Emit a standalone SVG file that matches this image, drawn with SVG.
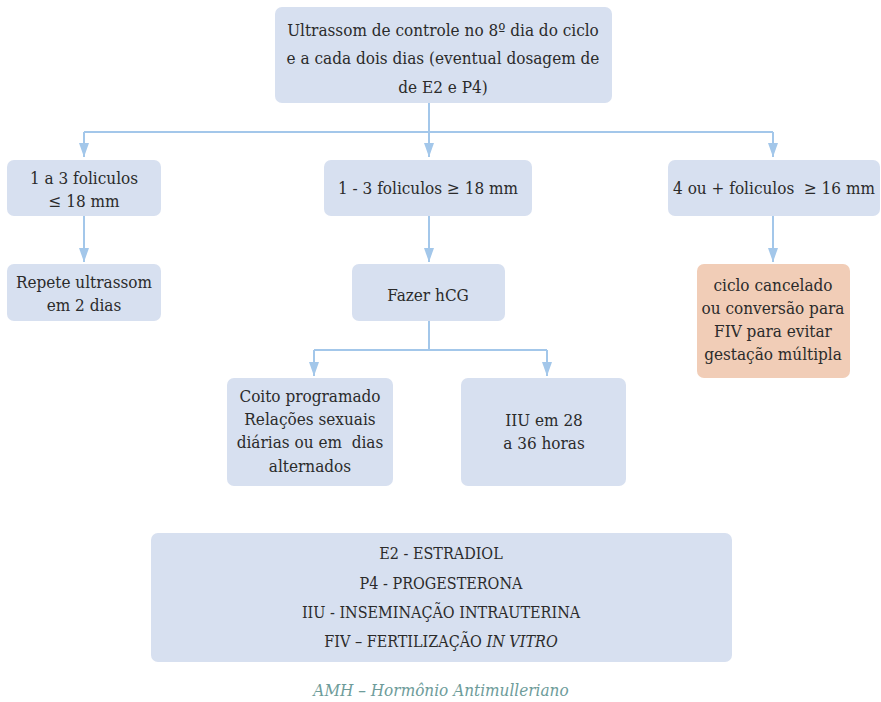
<svg xmlns="http://www.w3.org/2000/svg" width="881" height="702" viewBox="0 0 881 702">
  <style>
    .box { fill: #d7e0f0; }
    .warn { fill: #f1cdb7; }
    text { font-family: 'DejaVu Serif', serif; font-stretch: condensed; white-space: pre; }
    .t { font-size: 17px; fill: #2b2b2b; text-anchor: middle; }
    .lg { font-size: 16px; }
    .edge { fill: none; stroke: #a3c7ea; stroke-width: 2; }
    .cap { font-size: 17px; font-style: italic; fill: #6e9c9a; text-anchor: middle; }
  </style>
  <defs>
    <marker id="arrow" viewBox="0 0 14 10" refX="14" refY="5" markerWidth="14" markerHeight="10" markerUnits="userSpaceOnUse" orient="auto">
      <path d="M0,0 L14,5 L0,10 Z" fill="#a3c7ea"/>
    </marker>
  </defs>

  <rect width="881" height="702" fill="#ffffff"/>

  <!-- connectors -->
  <g id="connectors">
    <path class="edge" d="M429,103 V132"/>
    <path class="edge" d="M84,132 H773"/>
    <path class="edge" d="M84,132 V157" marker-end="url(#arrow)"/>
    <path class="edge" d="M429,132 V157" marker-end="url(#arrow)"/>
    <path class="edge" d="M773,132 V157" marker-end="url(#arrow)"/>
    <path class="edge" d="M84,216 V262" marker-end="url(#arrow)"/>
    <path class="edge" d="M429,216 V262" marker-end="url(#arrow)"/>
    <path class="edge" d="M773,216 V262" marker-end="url(#arrow)"/>
    <path class="edge" d="M429,321 V350"/>
    <path class="edge" d="M314,350 H547"/>
    <path class="edge" d="M314,350 V376" marker-end="url(#arrow)"/>
    <path class="edge" d="M547,350 V376" marker-end="url(#arrow)"/>
  </g>

  <g id="start">
    <rect class="box" x="275" y="7" width="337" height="96" rx="7"/>
    <text class="t" x="443" y="36">Ultrassom de controle no 8º dia do ciclo</text>
    <text class="t" x="443" y="64">e a cada dois dias (eventual dosagem de</text>
    <text class="t" x="443" y="93">de E2 e P4)</text>
  </g>

  <g id="few-small">
    <rect class="box" x="7" y="160" width="154" height="56" rx="7"/>
    <text class="t" x="84" y="184">1 a 3 foliculos</text>
    <text class="t" x="84" y="207">≤ 18 mm</text>
  </g>

  <g id="few-large">
    <rect class="box" x="324" y="160" width="208" height="56" rx="7"/>
    <text class="t" x="428" y="194">1 - 3 foliculos ≥ 18 mm</text>
  </g>

  <g id="many">
    <rect class="box" x="668" y="160" width="212" height="56" rx="7"/>
    <text class="t" x="774" y="194">4 ou + foliculos  ≥ 16 mm</text>
  </g>

  <g id="repeat">
    <rect class="box" x="7" y="264" width="154" height="57" rx="7"/>
    <text class="t" x="84" y="288">Repete ultrassom</text>
    <text class="t" x="84" y="311">em 2 dias</text>
  </g>

  <g id="hcg">
    <rect class="box" x="352" y="264" width="153" height="57" rx="7"/>
    <text class="t" x="428" y="301">Fazer hCG</text>
  </g>

  <g id="cancel">
    <rect class="warn" x="697" y="264" width="153" height="114" rx="7"/>
    <text class="t" x="773" y="291">ciclo cancelado</text>
    <text class="t" x="773" y="314">ou conversão para</text>
    <text class="t" x="773" y="337">FIV para evitar</text>
    <text class="t" x="773" y="360">gestação múltipla</text>
  </g>

  <g id="coito">
    <rect class="box" x="227" y="378" width="166" height="108" rx="7"/>
    <text class="t" x="310" y="402">Coito programado</text>
    <text class="t" x="310" y="425">Relações sexuais</text>
    <text class="t" x="310" y="448">diárias ou em  dias</text>
    <text class="t" x="310" y="472">alternados</text>
  </g>

  <g id="iiu">
    <rect class="box" x="461" y="378" width="165" height="108" rx="7"/>
    <text class="t" x="544" y="426">IIU em 28</text>
    <text class="t" x="544" y="449">a 36 horas</text>
  </g>

  <g id="legend">
    <rect class="box" x="151" y="533" width="581" height="129" rx="7"/>
    <text class="t lg" x="441" y="559">E2 - ESTRADIOL</text>
    <text class="t lg" x="441" y="589">P4 - PROGESTERONA</text>
    <text class="t lg" x="441" y="618">IIU - INSEMINAÇÃO INTRAUTERINA</text>
    <text class="t lg" x="441" y="647">FIV – FERTILIZAÇÃO <tspan font-style="italic">IN VITRO</tspan></text>
  </g>

  <text class="cap" x="441" y="696">AMH – Hormônio Antimulleriano</text>
</svg>
